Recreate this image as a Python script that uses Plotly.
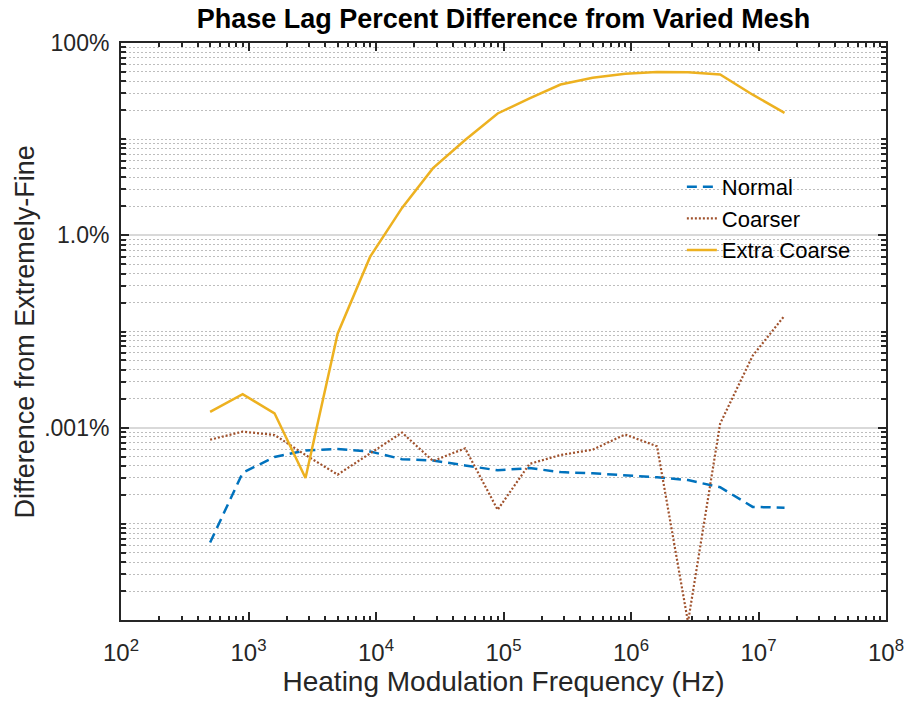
import numpy as np
import plotly.graph_objects as go

# Heating modulation frequencies (Hz)
freq = [500, 900, 1600, 2800, 5000, 9000, 16000, 28000, 50000, 90000,
        160000, 280000, 500000, 900000, 1.6e6, 2.8e6, 5e6, 9e6, 1.6e7]

# Percent difference of phase lag relative to the extremely-fine mesh
normal = [6.4e-4, 3.4e-3, 4.95e-3, 5.8e-3, 6.0e-3, 5.65e-3, 4.7e-3, 4.55e-3,
          4.05e-3, 3.6e-3, 3.8e-3, 3.45e-3, 3.35e-3, 3.2e-3, 3.05e-3, 2.85e-3,
          2.4e-3, 1.5e-3, 1.47e-3]
coarser = [7.5e-3, 9.1e-3, 8.4e-3, 5.2e-3, 3.25e-3, 5.4e-3, 8.9e-3, 4.5e-3,
           6.1e-3, 1.4e-3, 4.2e-3, 5.2e-3, 5.9e-3, 8.5e-3, 6.4e-3, 9.5e-5,
           1.1e-2, 5.6e-2, 1.46e-1]
extra_coarse = [1.46e-2, 2.23e-2, 1.41e-2, 3.0e-3, 9.5e-2, 0.6, 1.93, 5.0,
                9.8, 18.5, 26.5, 37, 43.6, 48, 50, 49.7, 47, 29, 18.8]

# Axis tick definitions
x_tick_vals = [1e2, 1e3, 1e4, 1e5, 1e6, 1e7, 1e8]
x_tick_text = ["10<sup>%d</sup>" % int(np.log10(v)) for v in x_tick_vals]
y_tick_vals = [100, 1, 0.01]
y_tick_text = ["100%", "1.0%", ".001%"]

x_minor = [m * 10.0 ** k for k in range(2, 8) for m in range(2, 10)]
y_minor = [m * 10.0 ** k for k in range(-4, 2) for m in range(1, 10)
           if not (m == 1 and 10.0 ** k in (1, 0.01, 1e-4))]

FONT = "Arial, Liberation Sans, Helvetica, sans-serif"
AX = "#262626"
L, R, T, B = 121, 23, 43, 84
PLOT_W = 916 - L - R

fig = go.Figure()
fig.add_trace(go.Scatter(x=freq, y=normal, mode="lines", name="Normal",
                         line=dict(color="#0072BD", width=2.5, dash="10px,6px")))
fig.add_trace(go.Scatter(x=freq, y=coarser, mode="lines", name="Coarser",
                         line=dict(color="#A0522D", width=2.2, dash="2px,2px")))
fig.add_trace(go.Scatter(x=freq, y=extra_coarse, mode="lines", name="Extra Coarse",
                         line=dict(color="#EDB120", width=2.5)))

fig.update_layout(
    width=916, height=704,
    margin=dict(l=L, r=R, t=T, b=B),
    paper_bgcolor="white", plot_bgcolor="white",
    font=dict(family=FONT, color=AX, size=22),
    title=dict(text="<b>Phase Lag Percent Difference from Varied Mesh</b>",
               x=0.5, xref="paper", xanchor="center",
               y=1 - 19 / 704, yref="container", yanchor="middle",
               font=dict(family=FONT, size=27, color="black")),
    showlegend=True,
    legend=dict(x=(687 - L) / PLOT_W, y=0.787, xanchor="left", yanchor="top",
                bgcolor="rgba(0,0,0,0)", borderwidth=0,
                font=dict(family=FONT, size=22, color="black"),
                tracegroupgap=0),
    annotations=[dict(text="Difference from Extremely-Fine",
                      xref="paper", yref="paper", x=(24 - L) / PLOT_W, y=0.5,
                      xanchor="center", yanchor="middle", textangle=-90,
                      showarrow=False,
                      font=dict(family=FONT, size=27, color=AX))],
)

fig.update_xaxes(
    type="log", range=[2, 8],
    tickmode="array", tickvals=x_tick_vals, ticktext=x_tick_text,
    ticks="inside", ticklen=8, tickwidth=2, tickcolor=AX,
    showline=True, linecolor=AX, linewidth=2, mirror="ticks",
    showgrid=False, zeroline=False,
    tickfont=dict(family=FONT, size=24, color=AX),
    ticklabelstandoff=10,
    minor=dict(tickmode="array", tickvals=x_minor, ticks="inside",
               ticklen=4, tickwidth=1.5, tickcolor=AX, showgrid=False),
    title=dict(text="Heating Modulation Frequency (Hz)",
               font=dict(family=FONT, size=28, color=AX), standoff=6),
)

fig.update_yaxes(
    type="log", range=[-4, 2],
    tickmode="array", tickvals=y_tick_vals, ticktext=y_tick_text,
    ticks="inside", ticklen=8, tickwidth=2, tickcolor=AX,
    showline=True, linecolor=AX, linewidth=2, mirror="ticks",
    showgrid=True, gridcolor="#d9d9d9", gridwidth=2, zeroline=False,
    tickfont=dict(family=FONT, size=23, color=AX),
    ticklabelstandoff=5,
    minor=dict(tickmode="array", tickvals=y_minor, ticks="inside",
               ticklen=5, tickwidth=1.5, tickcolor=AX,
               showgrid=True, gridcolor="#bdbdbd", gridwidth=1, griddash="2px,2px"),
)

fig.write_html("out.html")
